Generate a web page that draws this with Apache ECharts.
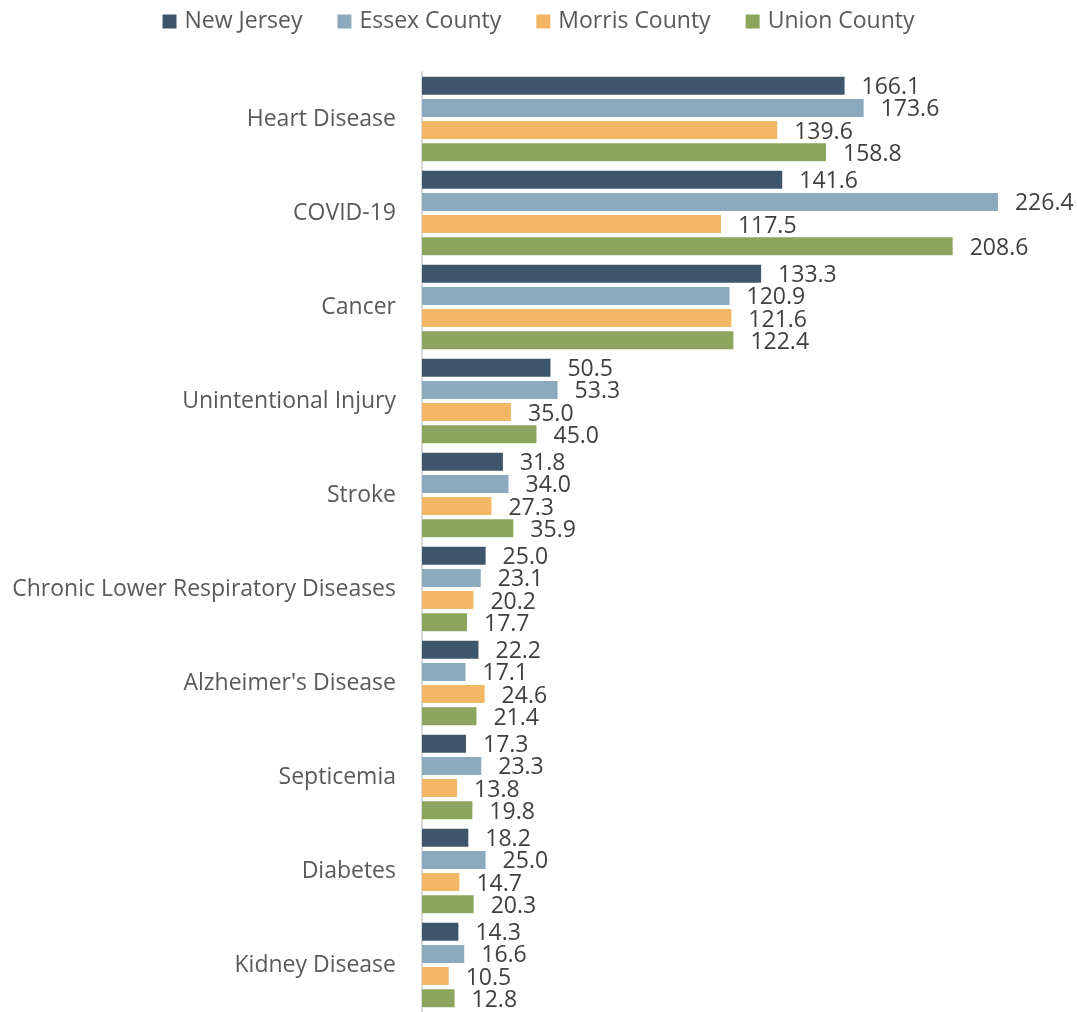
<!DOCTYPE html>
<html>
<head>
<meta charset="utf-8">
<script src="https://cdn.jsdelivr.net/npm/echarts@6/dist/echarts.min.js"></script>
<style>
  html, body { margin: 0; padding: 0; background: #ffffff; }
  #chart { width: 1077px; height: 1012px; }
</style>
</head>
<body>
<div id="chart"></div>
<script>
// Leading causes of death: age-adjusted rates per 100,000
const causes = [
  'Heart Disease',
  'COVID-19',
  'Cancer',
  'Unintentional Injury',
  'Stroke',
  'Chronic Lower Respiratory Diseases',
  "Alzheimer's Disease",
  'Septicemia',
  'Diabetes',
  'Kidney Disease'
];

const newJersey    = [166.1, 141.6, 133.3, 50.5, 31.8, 25.0, 22.2, 17.3, 18.2, 14.3];
const essexCounty  = [173.6, 226.4, 120.9, 53.3, 34.0, 23.1, 17.1, 23.3, 25.0, 16.6];
const morrisCounty = [139.6, 117.5, 121.6, 35.0, 27.3, 20.2, 24.6, 13.8, 14.7, 10.5];
const unionCounty  = [158.8, 208.6, 122.4, 45.0, 35.9, 17.7, 21.4, 19.8, 20.3, 12.8];

const seriesNames  = ['New Jersey', 'Essex County', 'Morris County', 'Union County'];
const seriesData   = [newJersey, essexCounty, morrisCounty, unionCounty];
const seriesColors = ['#3d566b', '#8baabe', '#f3b664', '#8ba65c'];

const FONT = 'Open Sans';

const chart = echarts.init(document.getElementById('chart'), null, { renderer: 'canvas' });

chart.setOption({
  animation: false,
  textStyle: { fontFamily: FONT },
  legend: {
    top: 5,
    left: 'center',
    itemWidth: 14,
    itemHeight: 14,
    itemGap: 35,
    icon: 'rect',
    textStyle: { fontFamily: FONT, fontSize: 23, color: '#595959', padding: [0, 0, 0, 3] },
    data: seriesNames
  },
  grid: { left: 422, right: 19, top: 72, bottom: 0, containLabel: false },
  xAxis: {
    type: 'value',
    min: 0,
    max: 250,
    show: false,
    splitLine: { show: false }
  },
  yAxis: {
    type: 'category',
    inverse: true,
    data: causes,
    axisTick: { show: false },
    axisLine: { show: true, lineStyle: { color: '#d9d9d9', width: 2 } },
    axisLabel: {
      margin: 26,
      fontFamily: FONT,
      fontSize: 23,
      color: '#595959'
    }
  },
  series: seriesData.map((vals, i) => ({
    name: seriesNames[i],
    type: 'bar',
    data: vals,
    barWidth: 18,
    barGap: '23%',
    itemStyle: { color: seriesColors[i] },
    label: {
      show: true,
      position: 'right',
      distance: 17,
      offset: [0, 2],
      fontFamily: FONT,
      fontSize: 23,
      color: '#404040',
      formatter: p => p.value.toFixed(1)
    }
  }))
});
</script>
</body>
</html>
